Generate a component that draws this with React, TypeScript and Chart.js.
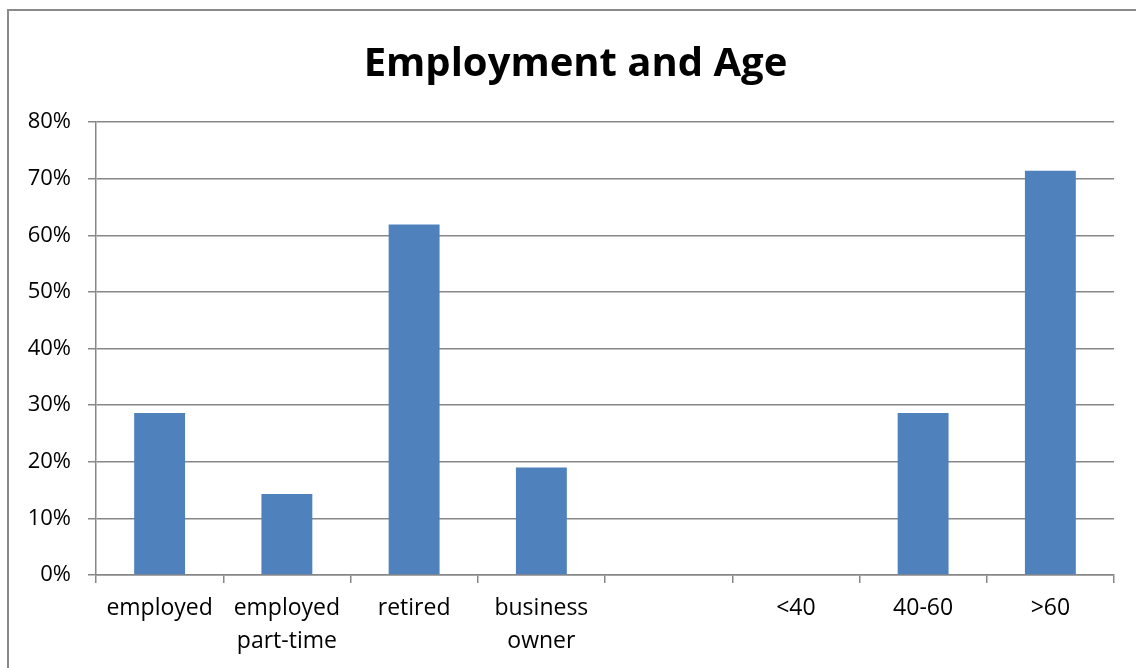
import React, { useEffect, useRef } from "react";
import { Chart, registerables } from "chart.js";

Chart.register(...registerables);

const chartTitle = "Employment and Age";
const categories: string[][] = [
  ["employed"],
  ["employed", "part-time"],
  ["retired"],
  ["business", "owner"],
  [""],
  ["<40"],
  ["40-60"],
  [">60"],
];
const shares: number[] = [0.286, 0.143, 0.619, 0.19, 0, 0, 0.286, 0.714];
const yTickMax = 0.8;
const yTickStep = 0.1;

const FONT = "'Open Sans', 'Liberation Sans', sans-serif";
const GRID = "#878787";

// widen the y-axis label clip region so right-aligned tick labels are not cut off
const widenYLabelArea = {
  id: "widenYLabelArea",
  afterLayout(chart: any) {
    if (chart.scales.y) chart.scales.y.left = 0;
  },
};

export default function App() {
  const ref = useRef<HTMLCanvasElement | null>(null);

  useEffect(() => {
    if (!ref.current) return;
    const chart = new Chart(ref.current, {
      type: "bar",
      data: {
        labels: categories,
        datasets: [
          {
            data: shares,
            backgroundColor: "#4F81BD",
            borderWidth: 0,
            barPercentage: 0.8,
            categoryPercentage: 0.5,
          },
        ],
      },
      plugins: [widenYLabelArea],
      options: {
        responsive: false,
        animation: false,
        layout: { padding: { left: 37, right: 22, top: 0, bottom: 0 } },
        plugins: {
          legend: { display: false },
          tooltip: { enabled: false },
          title: {
            display: true,
            text: chartTitle,
            color: "#000",
            font: { family: FONT, size: 40, weight: "bold", lineHeight: 1.2 },
            padding: { top: 41, bottom: 33 },
          },
        },
        scales: {
          x: {
            afterFit: (s: any) => {
              s.height = 93;
            },
            grid: {
              display: true,
              drawOnChartArea: false,
              drawTicks: true,
              tickLength: 8,
              color: GRID,
              lineWidth: 1.5,
              offset: true,
            },
            border: { display: true, color: GRID, width: 1.5 },
            ticks: {
              color: "#000",
              font: { family: FONT, size: 23, lineHeight: 1.43 },
              padding: 9,
              maxRotation: 0,
              autoSkip: false,
            },
          },
          y: {
            min: 0,
            max: yTickMax,
            afterFit: (s: any) => {
              s.width = 59;
            },
            grid: {
              color: GRID,
              lineWidth: 1.5,
              drawTicks: true,
              tickLength: 8,
            },
            border: { display: true, color: GRID, width: 1.5 },
            ticks: {
              stepSize: yTickStep,
              color: "#000",
              font: { family: FONT, size: 22 },
              padding: 17,
              callback: (v: any) => Math.round(Number(v) * 100) + "%",
            },
          },
        },
      },
    });
    return () => chart.destroy();
  }, []);

  return (
    <div
      style={{
        position: "fixed",
        left: 0,
        top: 0,
        width: 1136,
        height: 668,
        overflow: "hidden",
        background: "#fff",
      }}
    >
      <div
        style={{
          position: "absolute",
          left: 7,
          top: 9,
          width: 1200,
          height: 700,
          border: "2px solid #8a8a8a",
          boxSizing: "border-box",
        }}
      />
      <canvas
        ref={ref}
        width={1136}
        height={668}
        style={{ position: "absolute", left: 0, top: 0, width: 1136, height: 668 }}
      />
    </div>
  );
}
